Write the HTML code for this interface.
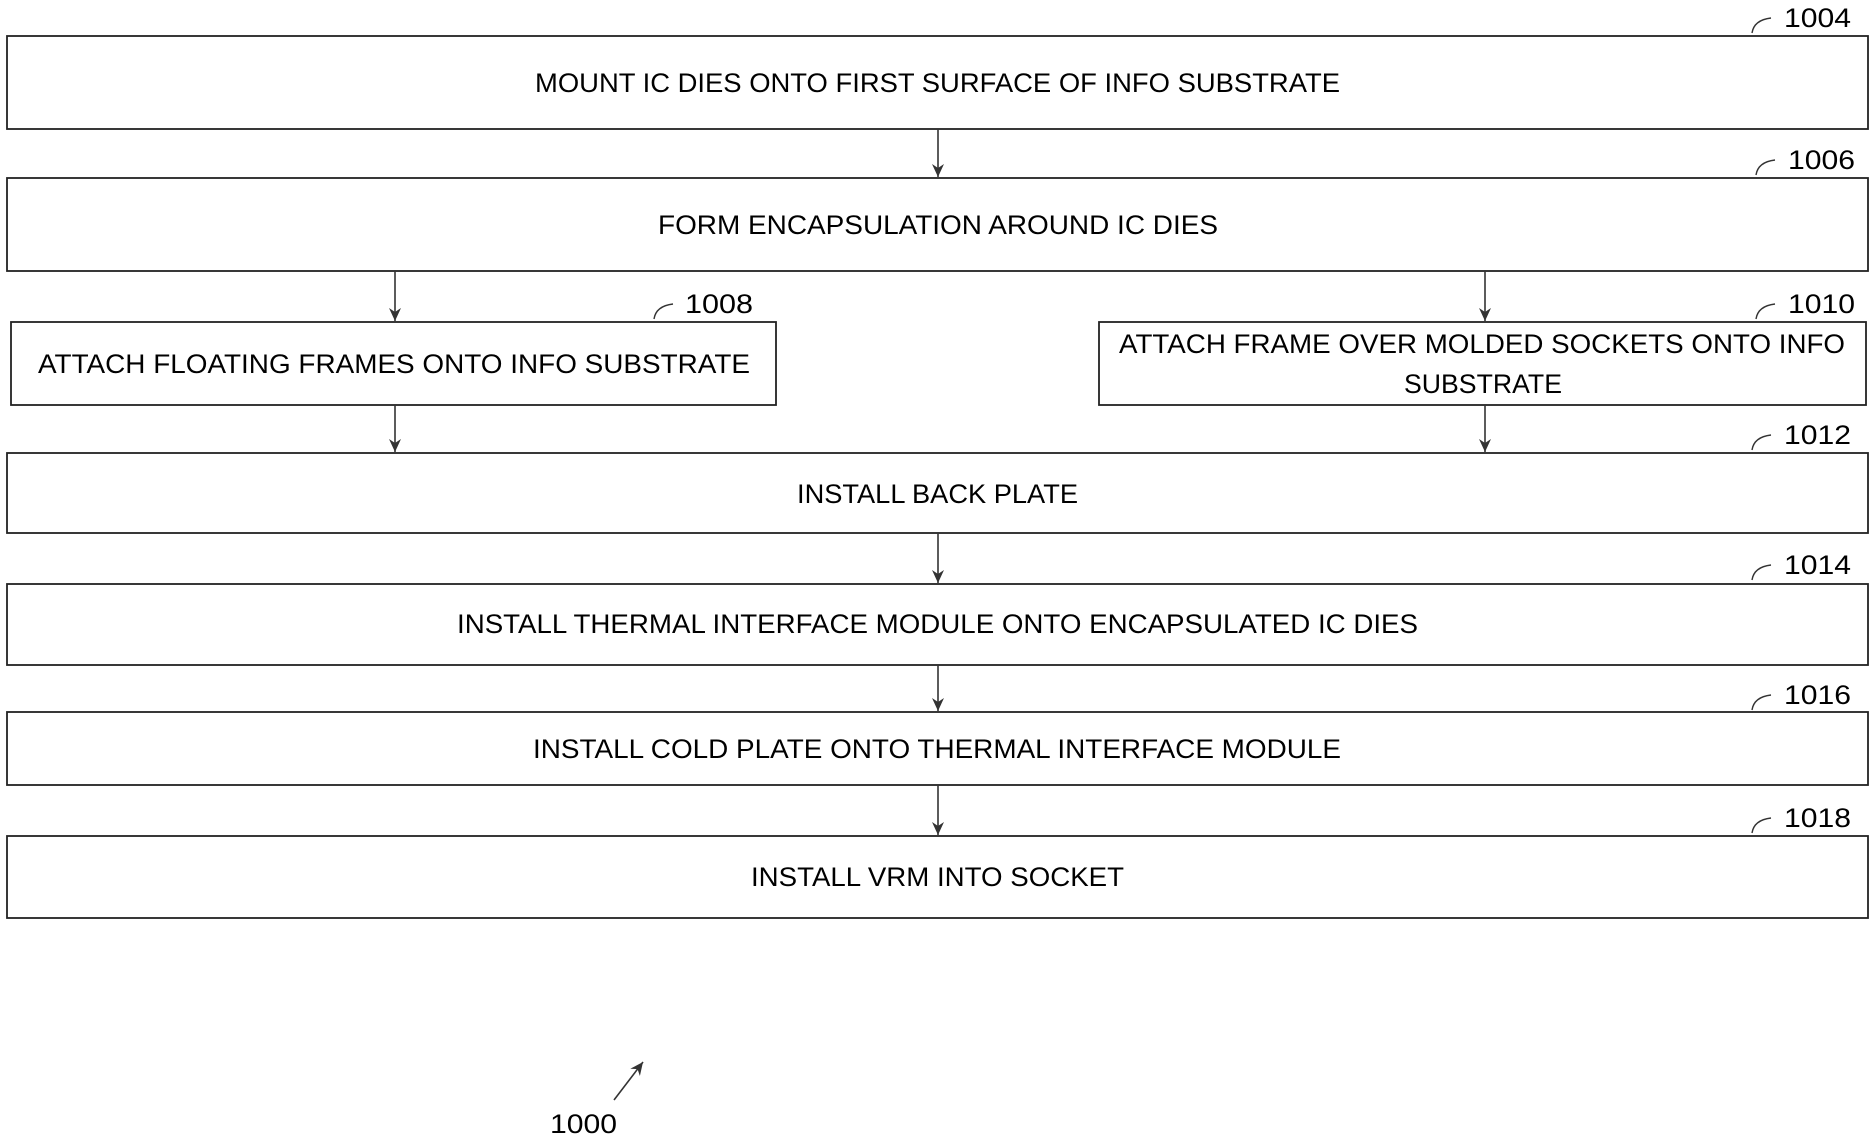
<!DOCTYPE html>
<html><head><meta charset="utf-8"><style>body{margin:0;background:#fff}svg{display:block}</style></head>
<body>
<svg width="1875" height="1141" viewBox="0 0 1875 1141" xmlns="http://www.w3.org/2000/svg">
<defs><marker id="a" markerWidth="14" markerHeight="12" refX="13" refY="6" orient="auto" markerUnits="userSpaceOnUse"><path d="M0,0 L13,6 L0,12 L4,6 Z" fill="#333"/></marker></defs>
<g fill="none" stroke="#222" stroke-width="1.8">
<rect x="7" y="36" width="1861" height="93"/>
<rect x="7" y="178" width="1861" height="93"/>
<rect x="11" y="322" width="765" height="83"/>
<rect x="1099" y="322" width="767" height="83"/>
<rect x="7" y="453" width="1861" height="80"/>
<rect x="7" y="584" width="1861" height="81"/>
<rect x="7" y="712" width="1861" height="73"/>
<rect x="7" y="836" width="1861" height="82"/>
</g>
<g stroke="#333" stroke-width="1.6" marker-end="url(#a)">
<line x1="938" y1="129" x2="938" y2="177"/>
<line x1="395" y1="271" x2="395" y2="321"/>
<line x1="1485" y1="271" x2="1485" y2="321"/>
<line x1="395" y1="405" x2="395" y2="452"/>
<line x1="1485" y1="405" x2="1485" y2="452"/>
<line x1="938" y1="533" x2="938" y2="583"/>
<line x1="938" y1="665" x2="938" y2="711"/>
<line x1="938" y1="785" x2="938" y2="835"/>
<line x1="614" y1="1100" x2="643" y2="1062"/>
</g>
<g fill="none" stroke="#333" stroke-width="1.4">
<path d="M1752,33 Q1754,20 1771,18"/>
<path d="M1756,175 Q1758,162 1775,160"/>
<path d="M654,319 Q656,306 673,304"/>
<path d="M1756,319 Q1758,306 1775,304"/>
<path d="M1752,450 Q1754,437 1771,435"/>
<path d="M1752,580 Q1754,567 1771,565"/>
<path d="M1752,710 Q1754,697 1771,695"/>
<path d="M1752,833 Q1754,820 1771,818"/>
</g>
<g font-family="Liberation Sans, sans-serif" font-size="27" fill="#000" dominant-baseline="central">
<text x="535" y="83" textLength="805" lengthAdjust="spacingAndGlyphs">MOUNT IC DIES ONTO FIRST SURFACE OF INFO SUBSTRATE</text>
<text x="658" y="225" textLength="560" lengthAdjust="spacingAndGlyphs">FORM ENCAPSULATION AROUND IC DIES</text>
<text x="38" y="364" textLength="712" lengthAdjust="spacingAndGlyphs">ATTACH FLOATING FRAMES ONTO INFO SUBSTRATE</text>
<text x="1119" y="344" textLength="726" lengthAdjust="spacingAndGlyphs">ATTACH FRAME OVER MOLDED SOCKETS ONTO INFO</text>
<text x="1404" y="384" textLength="158" lengthAdjust="spacingAndGlyphs">SUBSTRATE</text>
<text x="797" y="494" textLength="281" lengthAdjust="spacingAndGlyphs">INSTALL BACK PLATE</text>
<text x="457" y="624" textLength="961" lengthAdjust="spacingAndGlyphs">INSTALL THERMAL INTERFACE MODULE ONTO ENCAPSULATED IC DIES</text>
<text x="533" y="749" textLength="808" lengthAdjust="spacingAndGlyphs">INSTALL COLD PLATE ONTO THERMAL INTERFACE MODULE</text>
<text x="751" y="877" textLength="373" lengthAdjust="spacingAndGlyphs">INSTALL VRM INTO SOCKET</text>
<text x="1784" y="18" textLength="67" lengthAdjust="spacingAndGlyphs">1004</text>
<text x="1788" y="160" textLength="67" lengthAdjust="spacingAndGlyphs">1006</text>
<text x="685" y="304" textLength="68" lengthAdjust="spacingAndGlyphs">1008</text>
<text x="1788" y="304" textLength="67" lengthAdjust="spacingAndGlyphs">1010</text>
<text x="1784" y="435" textLength="67" lengthAdjust="spacingAndGlyphs">1012</text>
<text x="1784" y="565" textLength="67" lengthAdjust="spacingAndGlyphs">1014</text>
<text x="1784" y="695" textLength="67" lengthAdjust="spacingAndGlyphs">1016</text>
<text x="1784" y="818" textLength="67" lengthAdjust="spacingAndGlyphs">1018</text>
<text x="550" y="1124" textLength="67" lengthAdjust="spacingAndGlyphs">1000</text>
</g>
</svg>
</body></html>
